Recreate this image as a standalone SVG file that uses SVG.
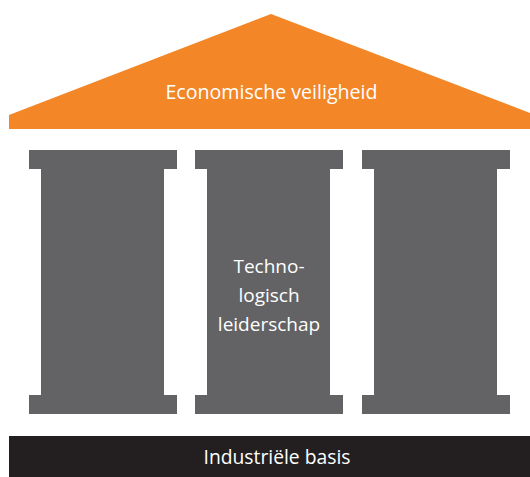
<svg xmlns="http://www.w3.org/2000/svg" width="530" height="477" viewBox="0 0 530 477">
<style>
.pil{fill:#636365}
.t{font-family:"Open Sans","Liberation Sans",sans-serif;fill:#ffffff;text-anchor:middle}
</style>
<defs>
<path id="pillar" d="M0,0 H148 V19 H135 V245 H148 V264 H0 V245 H12 V19 H0 Z"/>
</defs>
<rect width="530" height="477" fill="#ffffff"/>
<g id="roof">
<polygon points="9,129 9,115 271,14 530,113 530,129" fill="#f38626"/>
<text class="t" x="271.5" y="99" font-size="19.6">Economische veiligheid</text>
</g>
<g id="pillar1"><use href="#pillar" class="pil" x="29" y="150"/></g>
<g id="pillar2"><use href="#pillar" class="pil" x="195" y="150"/>
<text class="t" font-size="19"><tspan x="269" y="273">Techno-</tspan><tspan x="269" y="302">logisch</tspan><tspan x="269" y="331">leiderschap</tspan></text>
</g>
<g id="pillar3"><use href="#pillar" class="pil" x="362" y="150"/></g>
<g id="base">
<rect x="9" y="436" width="521" height="41" fill="#231f20"/>
<text class="t" x="277" y="464" font-size="19.3">Industriële basis</text>
</g>
<g id="connectors"/>
</svg>
